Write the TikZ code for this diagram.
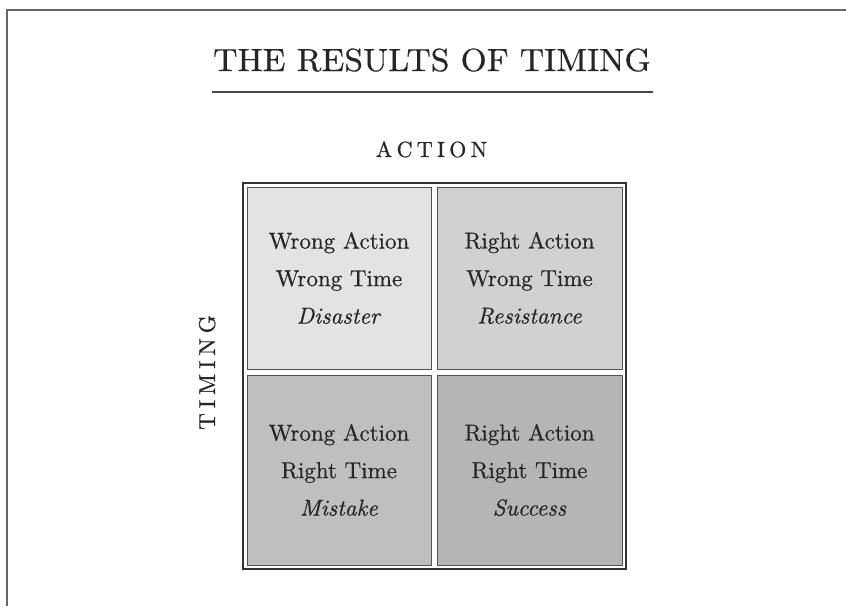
\documentclass[tikz,border=0pt]{standalone}
\usepackage{fontspec}
\setmainfont{lmroman10-regular.otf}[ItalicFont=lmroman10-italic.otf, BoldFont=lmroman10-bold.otf, FakeBold=0.6, ItalicFeatures={FakeBold=0.6}]
\begin{document}
\begin{tikzpicture}[x=1pt,y=-1pt,
  ink/.style={text=black!85},
  cell/.style={draw=black!68, line width=1pt, inner sep=0pt, align=center, ink,
    font=\fontsize{23}{37.5}\selectfont},
  caplabel/.style={ink, inner sep=0pt, font=\fontsize{22}{26}\selectfont}]
\useasboundingbox (0,0) rectangle (846,606);
\fill[white] (0,0) rectangle (846,606);
% page frame
\coordinate (fa) at (7,606);
\coordinate (fb) at (7,10);
\coordinate (fc) at (846,10);
\draw[black!60, line width=1.8pt] (fa) -- (fb) -- (fc);
% title
\node[ink, inner sep=0pt, anchor=base, font=\fontsize{32}{36}\selectfont] (title) at (432,71)
  {\scalebox{1.05}[1]{THE RESULTS OF TIMING}};
\coordinate (ra) at (212,92);
\coordinate (rb) at (653,92);
\draw[black!72, line width=2pt] (ra) -- (rb);
% axis labels
\node[caplabel, anchor=base] (action) at (431.5,157)
  {A\kern4.3pt C\kern4.3pt T\kern4.3pt I\kern4.3pt O\kern4.3pt N};
\node[caplabel, anchor=base, rotate=90, font=\fontsize{23}{26}\selectfont] (timing) at (215,372.5)
  {T\kern5pt I\kern5pt M\kern5pt I\kern5pt N\kern5pt G};
% outer box
\node[draw=black!80, line width=2.5pt, minimum width=383pt, minimum height=386pt, inner sep=0pt] (box) at (434.5,376) {};
% cells
\node[cell, fill=black!11, minimum width=184pt, minimum height=182pt] (c11) at (339,278)
  {Wrong Action\\Wrong Time\\\textit{Disaster}};
\node[cell, fill=black!18, minimum width=185pt, minimum height=182pt] (c12) at (529.5,278)
  {Right Action\\Wrong Time\\\textit{Resistance}};
\node[cell, fill=black!25, minimum width=184pt, minimum height=190pt] (c21) at (339,470)
  {Wrong Action\\Right Time\\\textit{Mistake}};
\node[cell, fill=black!29, minimum width=185pt, minimum height=190pt] (c22) at (529.5,470)
  {Right Action\\Right Time\\\textit{Success}};
\end{tikzpicture}
\end{document}
